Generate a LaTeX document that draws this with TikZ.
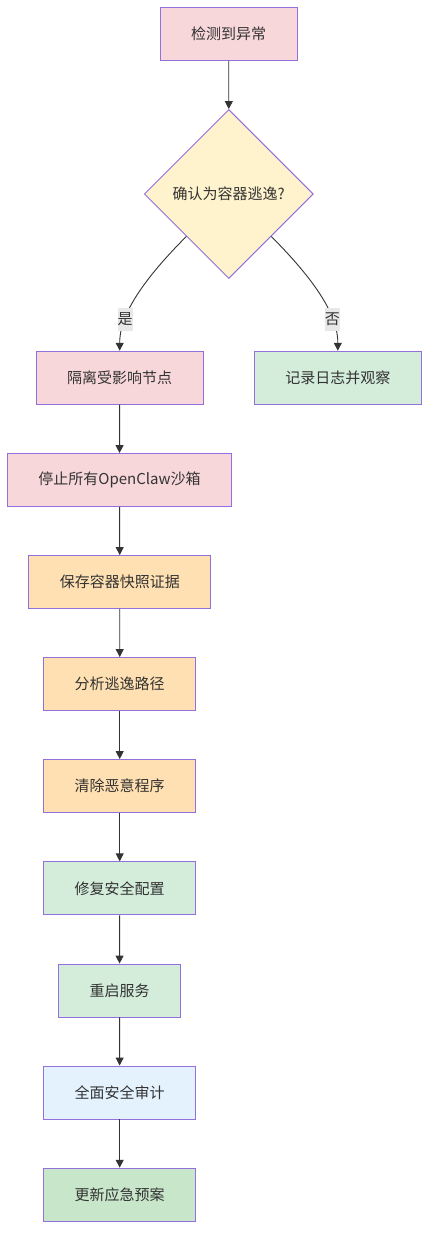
\documentclass[tikz,border=0pt]{standalone}
\usepackage{fontspec}
\setmainfont{Noto Sans CJK SC}
\usepackage{xcolor}
\usetikzlibrary{shapes.geometric, positioning, arrows.meta}
\definecolor{boxline}{HTML}{9370DB}
\definecolor{txtgray}{HTML}{333333}
\definecolor{pinkfill}{HTML}{F8D7DA}
\definecolor{yellowfill}{HTML}{FFF3CD}
\definecolor{greenfill}{HTML}{D4EDDA}
\definecolor{orangefill}{HTML}{FFE0B2}
\definecolor{bluefill}{HTML}{E3F2FD}
\definecolor{darkgreenfill}{HTML}{C8E6C9}
\definecolor{lblbg}{HTML}{E8E8E8}

\begin{document}
\begin{tikzpicture}[x=1pt, y=-1pt,
	box/.style={draw=boxline, line width=0.9pt, minimum height=53pt, inner xsep=31pt, text=txtgray, font=\fontsize{15}{18}\selectfont},
	decision/.style={diamond, aspect=1, draw=boxline, line width=0.9pt, fill=yellowfill, minimum size=169pt, inner sep=0pt, text=txtgray, font=\fontsize{15}{18}\selectfont},
	arr/.style={draw=txtgray, line width=0.9pt, -{Triangle[length=8pt, width=8pt]}},
	lbl/.style={fill=lblbg, inner sep=0pt, minimum width=15pt, minimum height=23pt, text=txtgray, font=\fontsize{15}{18}\selectfont}]
	\useasboundingbox (0,0) rectangle (438,1252);

	% main flow
	\node[box, fill=pinkfill] (detect) at (228.7,34) {检测到异常};
	\node[decision] (confirm) at (228.8,194) {确认为容器逃逸?};
	\node[box, fill=pinkfill] (isolate) at (119.7,377.7) {隔离受影响节点};
	\node[box, fill=greenfill] (logwatch) at (337.8,377.7) {记录日志并观察};
	\node[box, fill=pinkfill] (stopall) at (119.5,480) {停止所有OpenClaw沙箱};
	\node[box, fill=orangefill] (snapshot) at (119.8,582) {保存容器快照证据};
	\node[box, fill=orangefill] (analyse) at (119.7,684) {分析逃逸路径};
	\node[box, fill=orangefill] (cleanup) at (119.7,786) {清除恶意程序};
	\node[box, fill=greenfill] (fixconf) at (119.7,888.3) {修复安全配置};
	\node[box, fill=greenfill] (restart) at (119.5,990.5) {重启服务};
	\node[box, fill=bluefill] (audit) at (119.7,1092.5) {全面安全审计};
	\node[box, fill=darkgreenfill] (update) at (119.7,1194.7) {更新应急预案};

	% connectors
	\draw[arr] (detect.south) -- (confirm.north);
	\draw[arr] (confirm.south west) to[out=-135, in=90, out looseness=1.6, in looseness=0.5] node[lbl, pos=0.63] {是} (isolate.north);
	\draw[arr] (confirm.south east) to[out=-45, in=90, out looseness=1.6, in looseness=0.5] node[lbl, pos=0.63] {否} (logwatch.north);
	\draw[arr] (isolate) -- (stopall);
	\draw[arr] (stopall) -- (snapshot);
	\draw[arr] (snapshot) -- (analyse);
	\draw[arr] (analyse) -- (cleanup);
	\draw[arr] (cleanup) -- (fixconf);
	\draw[arr] (fixconf) -- (restart);
	\draw[arr] (restart) -- (audit);
	\draw[arr] (audit) -- (update);
\end{tikzpicture}
\end{document}
